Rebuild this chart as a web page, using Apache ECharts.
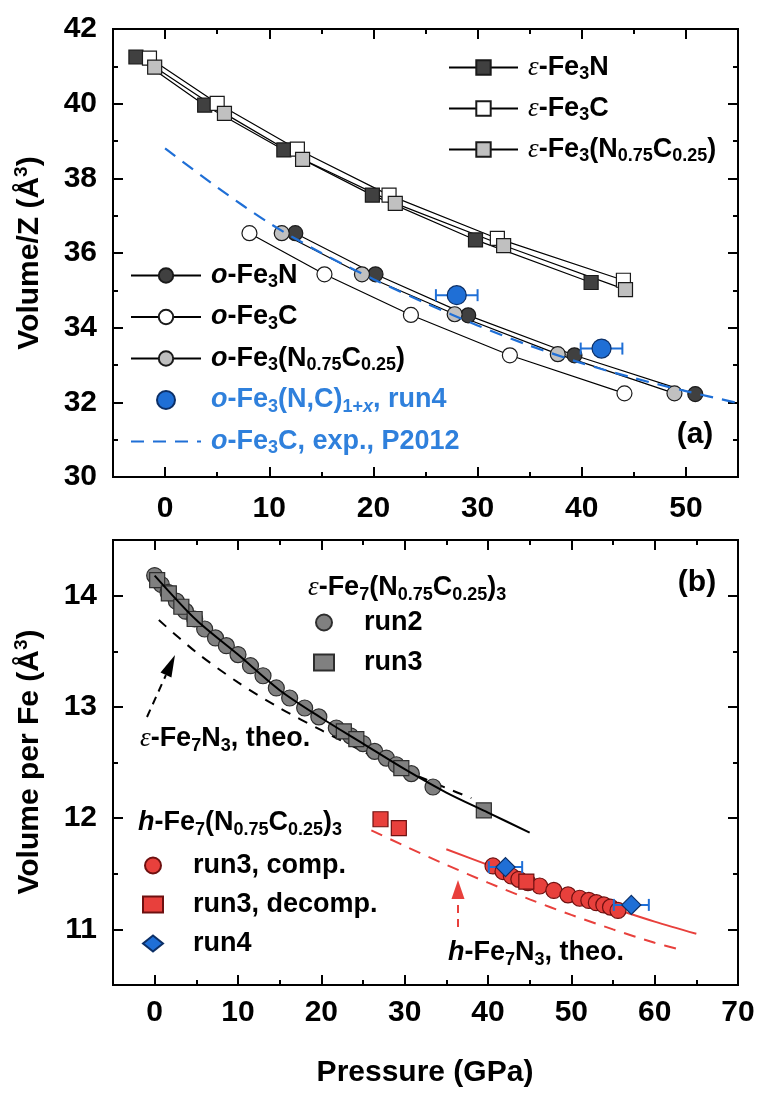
<!DOCTYPE html>
<html><head><meta charset="utf-8">
<script src="https://cdn.jsdelivr.net/npm/echarts@6/dist/echarts.min.js"></script>
<style>html,body{margin:0;padding:0;background:#fff}#c{width:760px;height:1097px}</style>
</head><body><div id="c"></div>
<script>
// ---------- Panel (a): pressure (GPa) vs Volume/Z (Å^3) ----------
const epsFe3N_P  = [-2.8, 3.8, 11.4, 19.9, 29.8, 40.9];
const epsFe3N_V  = [41.25, 39.96, 38.76, 37.55, 36.35, 35.21];
const epsFe3C_P  = [-1.5, 5.0, 12.7, 21.5, 31.9, 44.0];
const epsFe3C_V  = [41.22, 40.01, 38.78, 37.55, 36.39, 35.27];
const epsFe3NC_P = [-1.0, 5.7, 13.2, 22.1, 32.5, 44.2];
const epsFe3NC_V = [40.98, 39.74, 38.51, 37.33, 36.20, 35.02];
const oFe3N_P  = [12.5, 20.2, 29.1, 39.3, 50.9];
const oFe3N_V  = [36.53, 35.43, 34.33, 33.26, 32.22];
const oFe3C_P  = [8.1, 15.3, 23.6, 33.1, 44.1];
const oFe3C_V  = [36.53, 35.43, 34.34, 33.26, 32.24];
const oFe3NC_P = [11.2, 18.9, 27.8, 37.7, 48.9];
const oFe3NC_V = [36.53, 35.43, 34.36, 33.29, 32.24];
const run4a_P    = [28.0, 41.9];
const run4a_V    = [34.87, 33.44];
const run4a_Perr = [2.0, 2.0];
const p2012_P = [0, 5, 10, 15, 20, 25, 30, 35, 40, 45, 50, 55];
const p2012_V = [38.80, 37.76, 36.80, 36.00, 35.30, 34.66, 34.06, 33.52, 33.05, 32.65, 32.30, 31.98];

// ---------- Panel (b): pressure (GPa) vs Volume per Fe (Å^3) ----------
const epsFit_P  = [0, 5, 10, 15, 20, 25, 30, 35, 40, 45];
const epsFit_V  = [14.18, 13.78, 13.47, 13.15, 12.90, 12.67, 12.44, 12.23, 12.05, 11.87];
const epsTheo_P = [0.5, 5, 10, 15, 20, 25, 30, 35, 38];
const epsTheo_V = [13.78, 13.49, 13.22, 12.99, 12.79, 12.60, 12.43, 12.27, 12.18];
const epsRun2_P = [0.0, 0.8, 1.6, 2.6, 3.7, 4.8, 6.0, 7.3, 8.6, 10.0, 11.5, 13.0, 14.6, 16.2, 18.0, 19.7, 21.8, 23.5, 25.0, 26.4, 27.8, 29.0, 30.8, 33.4];
const epsRun2_V = [14.18, 14.10, 14.03, 13.95, 13.86, 13.79, 13.70, 13.62, 13.55, 13.47, 13.37, 13.28, 13.17, 13.08, 12.99, 12.91, 12.81, 12.74, 12.67, 12.60, 12.54, 12.48, 12.40, 12.28];
const epsRun3_P = [0.3, 1.7, 3.2, 4.8, 22.7, 24.2, 29.6, 39.5];
const epsRun3_V = [14.14, 14.02, 13.90, 13.79, 12.78, 12.71, 12.45, 12.07];
const hFit_P  = [35, 40, 45, 50, 55, 60, 65];
const hFit_V  = [11.72, 11.58, 11.44, 11.31, 11.19, 11.07, 10.96];
const hTheo_P = [26, 30, 35, 40, 45, 50, 55, 60, 63];
const hTheo_V = [11.89, 11.75, 11.58, 11.42, 11.27, 11.13, 11.00, 10.88, 10.82];
const hComp_P = [40.6, 41.8, 42.8, 43.7, 44.8, 46.2, 47.9, 49.6, 51.0, 52.1, 53.0, 53.9, 54.7, 55.6];
const hComp_V = [11.57, 11.52, 11.48, 11.45, 11.42, 11.39, 11.35, 11.31, 11.28, 11.26, 11.24, 11.22, 11.20, 11.17];
const hDecomp_P = [27.1, 29.3, 44.6];
const hDecomp_V = [11.99, 11.91, 11.43];
const hRun4_P    = [42.1, 57.2];
const hRun4_V    = [11.56, 11.22];
const hRun4_Perr = [2.0, 2.1];

// ---------- tick labels ----------
const xTicksA = [0, 10, 20, 30, 40, 50];
const xMinorA = [5, 15, 25, 35, 45];
const yTicksA = [30, 32, 34, 36, 38, 40, 42];
const yMinorA = [31, 33, 35, 37, 39, 41];
const xTicksB = [0, 10, 20, 30, 40, 50, 60, 70];
const xMinorB = [5, 15, 25, 35, 45, 55, 65];
const yTicksB = [11, 12, 13, 14];
const yMinorB = [11.5, 12.5, 13.5];

// ---------- styling ----------
const FAM = "'Liberation Sans', Arial, Helvetica, sans-serif";
const BLUE = '#1f6fd6', BLUE_T = '#2f80dc', RED = '#e8403c', RED_T = '#e24a48';
const GRAY_D = '#404040', GRAY_L = '#c0c0c0', GRAY_M = '#808080';

const zip = (a, b, c) => a.map((v, i) => c ? [v, b[i], c[i]] : [v, b[i]]);

function richSet(prefix, color, size) {
  const sub = Math.round(size * 0.68), lh = Math.round(size * 1.2);
  const base = {fontFamily: FAM, fontWeight: 'bold', color: color, fontSize: size, lineHeight: lh, verticalAlign: 'middle'};
  const o = {};
  o[prefix + 'n'] = base;
  o[prefix + 'i'] = Object.assign({}, base, {fontStyle: 'italic'});
  o[prefix + 'e'] = Object.assign({}, base, {fontFamily: "'Liberation Serif', 'DejaVu Serif', serif", fontWeight: 'normal', fontStyle: 'italic'});
  o[prefix + 's'] = Object.assign({}, base, {fontSize: sub, lineHeight: sub, verticalAlign: 'bottom'});
  o[prefix + 'si'] = Object.assign({}, o[prefix + 's'], {fontStyle: 'italic'});
  return o;
}
const RICH = Object.assign({}, richSet('', '#000', 27), richSet('b', BLUE_T, 27), richSet('r', RED_T, 27));
const TITLE_RICH = {
  t: {fontFamily: FAM, fontWeight: 'bold', fontSize: 30, color: '#000', lineHeight: 36, verticalAlign: 'middle'},
  u: {fontFamily: FAM, fontWeight: 'bold', fontSize: 19, color: '#000', lineHeight: 19, verticalAlign: 'top'}
};

const LABELS = {
  'ε-Fe3N': '{e|ε}{n|-Fe}{s|3}{n|N}',
  'ε-Fe3C': '{e|ε}{n|-Fe}{s|3}{n|C}',
  'ε-Fe3(N0.75C0.25)': '{e|ε}{n|-Fe}{s|3}{n|(N}{s|0.75}{n|C}{s|0.25}{n|)}',
  'o-Fe3N': '{i|o}{n|-Fe}{s|3}{n|N}',
  'o-Fe3C': '{i|o}{n|-Fe}{s|3}{n|C}',
  'o-Fe3(N0.75C0.25)': '{i|o}{n|-Fe}{s|3}{n|(N}{s|0.75}{n|C}{s|0.25}{n|)}',
  'o-Fe3(N,C)1+x, run4': '{bi|o}{bn|-Fe}{bs|3}{bn|(N,C)}{bs|1+}{bsi|x}{bn|, run4}',
  'o-Fe3C, exp., P2012': '{bi|o}{bn|-Fe}{bs|3}{bn|C, exp., P2012}',
  'ε run2': '{n|run2}',
  'ε run3': '{n|run3}',
  'h run3, comp.': '{n|run3, comp.}',
  'h run3, decomp.': '{n|run3, decomp.}',
  'h run4': '{n|run4}'
};

function axisDef(gridIndex, position, min, max, ticks, labels, tickLen, margin) {
  return {
    type: 'value', gridIndex: gridIndex, position: position, min: min, max: max,
    axisLine: {show: false, onZero: false},
    splitLine: {show: false},
    axisTick: {show: true, inside: true, length: tickLen, customValues: ticks, lineStyle: {color: '#000', width: 2}},
    axisLabel: labels ? {show: true, customValues: labels, margin: margin, fontFamily: FAM, fontWeight: 'bold', fontSize: 30, color: '#000'} : {show: false}
  };
}

function errBar(params, api) {
  const x = api.value(0), y = api.value(1), e = api.value(2);
  const p0 = api.coord([x - e, y]), p1 = api.coord([x + e, y]);
  const h = 6, st = {stroke: BLUE, lineWidth: 2};
  return {type: 'group', children: [
    {type: 'line', shape: {x1: p0[0], y1: p0[1], x2: p1[0], y2: p1[1]}, style: st},
    {type: 'line', shape: {x1: p0[0], y1: p0[1] - h, x2: p0[0], y2: p0[1] + h}, style: st},
    {type: 'line', shape: {x1: p1[0], y1: p1[1] - h, x2: p1[0], y2: p1[1] + h}, style: st}
  ]};
}

const lineA = (name, P, V, symbol, size, fill) => ({
  name: name, type: 'line', xAxisIndex: 0, yAxisIndex: 0, data: zip(P, V),
  symbol: symbol, symbolSize: size, showAllSymbol: true,
  itemStyle: {color: fill, borderColor: '#1a1a1a', borderWidth: 1.2},
  lineStyle: {color: '#000', width: 1.2}, z: 3, silent: true
});

const legendBase = {orient: 'vertical', padding: 0, selectedMode: false,
  formatter: n => LABELS[n] || n};

const option = {
  animation: false,
  backgroundColor: '#fff',
  grid: [
    {left: 113, right: 22, top: 29, height: 448, show: true, borderColor: '#000', borderWidth: 2, backgroundColor: 'transparent', outerBoundsMode: 'none'},
    {left: 113, right: 22, top: 540, height: 445, show: true, borderColor: '#000', borderWidth: 2, backgroundColor: 'transparent', outerBoundsMode: 'none'}
  ],
  xAxis: [
    axisDef(0, 'bottom', -5, 55, xTicksA, xTicksA, 10, 17),
    axisDef(1, 'bottom', -5, 70, xTicksB, xTicksB, 10, 13),
    axisDef(0, 'bottom', -5, 55, xMinorA, null, 5),
    axisDef(0, 'top', -5, 55, xTicksA, null, 10),
    axisDef(0, 'top', -5, 55, xMinorA, null, 5),
    axisDef(1, 'bottom', -5, 70, xMinorB, null, 5),
    axisDef(1, 'top', -5, 70, xTicksB, null, 10),
    axisDef(1, 'top', -5, 70, xMinorB, null, 5)
  ],
  yAxis: [
    axisDef(0, 'left', 30, 42, yTicksA, yTicksA, 10, 16),
    axisDef(1, 'left', 10.5, 14.5, yTicksB, yTicksB, 10, 16),
    axisDef(0, 'left', 30, 42, yMinorA, null, 5),
    axisDef(0, 'right', 30, 42, yTicksA, null, 10),
    axisDef(0, 'right', 30, 42, yMinorA, null, 5),
    axisDef(1, 'left', 10.5, 14.5, yMinorB, null, 5),
    axisDef(1, 'right', 10.5, 14.5, yTicksB, null, 10),
    axisDef(1, 'right', 10.5, 14.5, yMinorB, null, 5)
  ],
  legend: [
    Object.assign({}, legendBase, {data: ['ε-Fe3N', 'ε-Fe3C', 'ε-Fe3(N0.75C0.25)'], left: 448, top: 54,
      itemWidth: 69, itemHeight: 18, itemGap: 11.5, textStyle: {padding: [0, 0, 0, 5], rich: RICH}}),
    Object.assign({}, legendBase, {data: ['o-Fe3N', 'o-Fe3C', 'o-Fe3(N0.75C0.25)', 'o-Fe3(N,C)1+x, run4',
        {name: 'o-Fe3C, exp., P2012', itemStyle: {opacity: 0}}], left: 130, top: 262,
      itemWidth: 70, itemHeight: 18, itemGap: 12, textStyle: {padding: [0, 0, 0, 5], rich: RICH}}),
    Object.assign({}, legendBase, {data: ['ε run2', 'ε run3'], left: 313, top: 609,
      itemWidth: 20, itemHeight: 16, itemGap: 13, textStyle: {padding: [0, 0, 0, 25], rich: RICH}}),
    Object.assign({}, legendBase, {data: ['h run3, comp.', 'h run3, decomp.', 'h run4'], left: 142, top: 852,
      itemWidth: 20, itemHeight: 16, itemGap: 12, textStyle: {padding: [0, 0, 0, 25], rich: RICH}})
  ],
  series: [
    // panel (a)
    lineA('ε-Fe3N', epsFe3N_P, epsFe3N_V, 'rect', 14, GRAY_D),
    lineA('ε-Fe3C', epsFe3C_P, epsFe3C_V, 'rect', 14, '#ffffff'),
    lineA('ε-Fe3(N0.75C0.25)', epsFe3NC_P, epsFe3NC_V, 'rect', 14, GRAY_L),
    lineA('o-Fe3N', oFe3N_P, oFe3N_V, 'circle', 15, GRAY_D),
    lineA('o-Fe3C', oFe3C_P, oFe3C_V, 'circle', 15, '#ffffff'),
    lineA('o-Fe3(N0.75C0.25)', oFe3NC_P, oFe3NC_V, 'circle', 15, GRAY_L),
    {name: 'o-Fe3C, exp., P2012', type: 'line', xAxisIndex: 0, yAxisIndex: 0, data: zip(p2012_P, p2012_V),
      symbol: 'none', smooth: 0.3, lineStyle: {color: BLUE, width: 2.2, type: [13, 9]}, itemStyle: {color: BLUE}, z: 4, silent: true},
    {name: 'run4 a err', type: 'custom', xAxisIndex: 0, yAxisIndex: 0, data: zip(run4a_P, run4a_V, run4a_Perr),
      renderItem: errBar, encode: {x: 0, y: 1}, z: 5, silent: true},
    {name: 'o-Fe3(N,C)1+x, run4', type: 'scatter', xAxisIndex: 0, yAxisIndex: 0, data: zip(run4a_P, run4a_V),
      symbol: 'circle', symbolSize: 19, itemStyle: {color: BLUE, borderColor: '#0c2f66', borderWidth: 1.2, opacity: 1}, z: 6, silent: true},
    // panel (b)
    {name: 'ε run2', type: 'scatter', xAxisIndex: 1, yAxisIndex: 1, data: zip(epsRun2_P, epsRun2_V),
      symbol: 'circle', symbolSize: 16, itemStyle: {color: GRAY_M, borderColor: '#2e2e2e', borderWidth: 1.2, opacity: 1}, z: 3, silent: true},
    {name: 'ε run3', type: 'scatter', xAxisIndex: 1, yAxisIndex: 1, data: zip(epsRun3_P, epsRun3_V),
      symbol: 'rect', symbolSize: 15, itemStyle: {color: GRAY_M, borderColor: '#2e2e2e', borderWidth: 1.2, opacity: 1}, z: 3, silent: true},
    {name: 'ε fit', type: 'line', xAxisIndex: 1, yAxisIndex: 1, data: zip(epsFit_P, epsFit_V),
      symbol: 'none', smooth: 0.3, lineStyle: {color: '#000', width: 2}, z: 4, silent: true},
    {name: 'ε-Fe7N3 theo', type: 'line', xAxisIndex: 1, yAxisIndex: 1, data: zip(epsTheo_P, epsTheo_V),
      symbol: 'none', smooth: 0.3, lineStyle: {color: '#000', width: 2, type: [10, 9]}, z: 2, silent: true},
    {name: 'h fit', type: 'line', xAxisIndex: 1, yAxisIndex: 1, data: zip(hFit_P, hFit_V),
      symbol: 'none', smooth: 0.3, lineStyle: {color: RED, width: 2}, z: 2, silent: true},
    {name: 'h-Fe7N3 theo', type: 'line', xAxisIndex: 1, yAxisIndex: 1, data: zip(hTheo_P, hTheo_V),
      symbol: 'none', smooth: 0.3, lineStyle: {color: RED, width: 2, type: [12, 9]}, z: 2, silent: true},
    {name: 'h run3, comp.', type: 'scatter', xAxisIndex: 1, yAxisIndex: 1, data: zip(hComp_P, hComp_V),
      symbol: 'circle', symbolSize: 16, itemStyle: {color: RED, borderColor: '#6e1010', borderWidth: 1.2, opacity: 1}, z: 3, silent: true},
    {name: 'h run3, decomp.', type: 'scatter', xAxisIndex: 1, yAxisIndex: 1, data: zip(hDecomp_P, hDecomp_V),
      symbol: 'rect', symbolSize: 15, itemStyle: {color: RED, borderColor: '#6e1010', borderWidth: 1.2, opacity: 1}, z: 3, silent: true},
    {name: 'h run4 err', type: 'custom', xAxisIndex: 1, yAxisIndex: 1, data: zip(hRun4_P, hRun4_V, hRun4_Perr),
      renderItem: errBar, encode: {x: 0, y: 1}, z: 4, silent: true},
    {name: 'h run4', type: 'scatter', xAxisIndex: 1, yAxisIndex: 1, data: zip(hRun4_P, hRun4_V),
      symbol: 'diamond', symbolSize: [19, 19], itemStyle: {color: BLUE, borderColor: '#0c2f66', borderWidth: 1.2, opacity: 1}, z: 5, silent: true}
  ],
  graphic: [
    {type: 'text', x: 30, y: 253, rotation: Math.PI / 2, z: 100, style: {text: '{t|Volume/Z (Å}{u|3}{t|)}', rich: TITLE_RICH, align: 'center', verticalAlign: 'middle'}},
    {type: 'text', x: 30, y: 762, rotation: Math.PI / 2, z: 100, style: {text: '{t|Volume per Fe (Å}{u|3}{t|)}', rich: TITLE_RICH, align: 'center', verticalAlign: 'middle'}},
    {type: 'text', x: 425, y: 1073, z: 100, style: {text: 'Pressure (GPa)', font: "bold 30px 'Liberation Sans', Arial, sans-serif", fill: '#000', align: 'center', verticalAlign: 'middle'}},
    {type: 'text', x: 695, y: 435, z: 100, style: {text: '(a)', font: "bold 30px 'Liberation Sans', Arial, sans-serif", fill: '#000', align: 'center', verticalAlign: 'middle'}},
    {type: 'text', x: 697, y: 583, z: 100, style: {text: '(b)', font: "bold 30px 'Liberation Sans', Arial, sans-serif", fill: '#000', align: 'center', verticalAlign: 'middle'}},
    {type: 'text', x: 308, y: 588, z: 100, style: {text: '{e|ε}{n|-Fe}{s|7}{n|(N}{s|0.75}{n|C}{s|0.25}{n|)}{s|3}', rich: RICH, align: 'left', verticalAlign: 'middle'}},
    {type: 'text', x: 140, y: 739, z: 100, style: {text: '{e|ε}{n|-Fe}{s|7}{n|N}{s|3}{n|, theo.}', rich: RICH, align: 'left', verticalAlign: 'middle'}},
    {type: 'text', x: 138, y: 823, z: 100, style: {text: '{i|h}{n|-Fe}{s|7}{n|(N}{s|0.75}{n|C}{s|0.25}{n|)}{s|3}', rich: RICH, align: 'left', verticalAlign: 'middle'}},
    {type: 'text', x: 448, y: 953, z: 100, style: {text: '{ri|h}{rn|-Fe}{rs|7}{rn|N}{rs|3}{rn|, theo.}', rich: RICH, align: 'left', verticalAlign: 'middle'}},
    // arrows
    {type: 'line', z: 100, shape: {x1: 147, y1: 717, x2: 165.9, y2: 675.1}, style: {stroke: '#000', lineWidth: 2, lineDash: [8, 6]}},
    {type: 'polygon', z: 100, shape: {points: [[175, 655], [171.4, 677.6], [160.5, 672.6]]}, style: {fill: '#000'}},
    {type: 'line', z: 100, shape: {x1: 458, y1: 927, x2: 458, y2: 899}, style: {stroke: RED, lineWidth: 2, lineDash: [8, 6]}},
    {type: 'polygon', z: 100, shape: {points: [[458, 880], [464.5, 899], [451.5, 899]]}, style: {fill: RED}}
  ]
};

const chart = echarts.init(document.getElementById('c'), null, {renderer: 'canvas'});
chart.setOption(option);
</script>
</body></html>
